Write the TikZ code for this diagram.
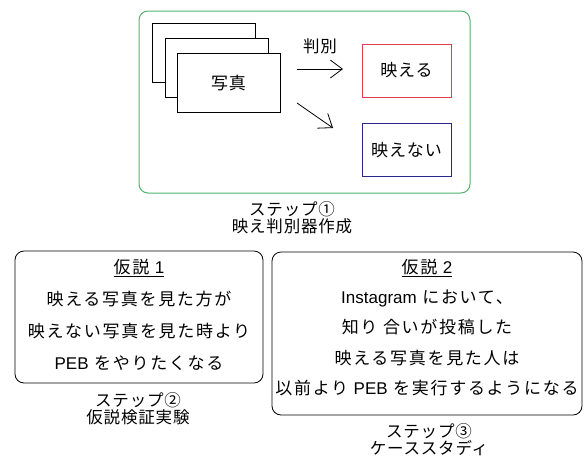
\documentclass[tikz,border=0pt]{standalone}
\usepackage{fontspec}
\setmainfont{Noto Sans CJK JP}
\newfontfamily\jp[LetterSpace=10]{Noto Sans CJK JP}
\newfontfamily\jpb[LetterSpace=5]{Noto Sans CJK JP}
\newfontfamily\latn{Liberation Sans}
\newcommand{\lt}[1]{{\latn #1}}
\usetikzlibrary{arrows.meta}
\definecolor{gline}{RGB}{80,180,110}
\definecolor{rline}{RGB}{230,60,80}
\definecolor{bline}{RGB}{40,40,140}
\tikzset{
  photo/.style={draw, fill=white, line width=0.9pt, minimum width=103pt, minimum height=59pt, inner sep=0pt},
  cls/.style={draw, line width=0.9pt, minimum width=89pt, minimum height=53pt, inner sep=0pt, font=\jpb\fontsize{17}{18}\selectfont},
  hyp/.style={draw, rounded corners=9pt, line width=0.8pt, inner sep=0pt},
  steplabel/.style={align=center, font=\jpb\fontsize{16.5}{17}\selectfont},
  arr/.style={line width=0.8pt, -{Straight Barb[length=12pt,width=18pt,line width=0.8pt]}}
}
\begin{document}
\begin{tikzpicture}[x=1pt,y=-1pt]
\useasboundingbox (0,0) rectangle (584,459);
% step 1 frame
\node[draw=gline, rounded corners=9pt, line width=1pt, minimum width=331pt, minimum height=182pt, inner sep=0pt] (frame) at (304.5,102) {};
\node[photo] (p1) at (203.5,52.5) {};
\node[photo] (p2) at (216.5,67.5) {};
\node[photo, font=\jpb\fontsize{17}{18}\selectfont] (p3) at (228.5,83) {写真};
\node[cls, draw=rline] (good) at (406.5,70.5) {映える};
\node[cls, draw=bline] (bad) at (406.5,150) {映えない};
\coordinate (a1s) at (297,69);
\coordinate (a1e) at (343,69);
\coordinate (a2s) at (297,103);
\coordinate (a2e) at (333,128);
\draw[arr] (a1s) -- (a1e);
\draw[arr] (a2s) -- (a2e);
\node[font=\jpb\fontsize{16.5}{18}\selectfont] (lab) at (320,46) {判別};
\node[steplabel] (s1) at (292,218) {ステップ①\\映え判別器作成};
% hypothesis 1
\node[hyp, minimum width=248pt, minimum height=132pt] (h1) at (139,317) {};
\node[align=center, font=\jp\fontsize{17}{32.2}\selectfont] (h1t) at (139,315) {\underline{仮説 \lt{1}}\\映える写真を見た方が\\映えない写真を見た時より\\\lt{PEB} をやりたくなる};
\node[steplabel] (s2) at (138,409) {ステップ②\\仮説検証実験};
% hypothesis 2
\node[hyp, minimum width=310pt, minimum height=163pt] (h2) at (427,333.5) {};
\node[align=center, font=\jp\fontsize{17}{30.2}\selectfont] (h2t) at (427,327.5) {\underline{仮説 \lt{2}}\\\lt{Instagram} において、\\知り 合いが投稿した\\映える写真を見た人は\\以前より \lt{PEB} を実行するようになる};
\node[steplabel] (s3) at (429,440) {ステップ③\\ケーススタディ};
\end{tikzpicture}
\end{document}
